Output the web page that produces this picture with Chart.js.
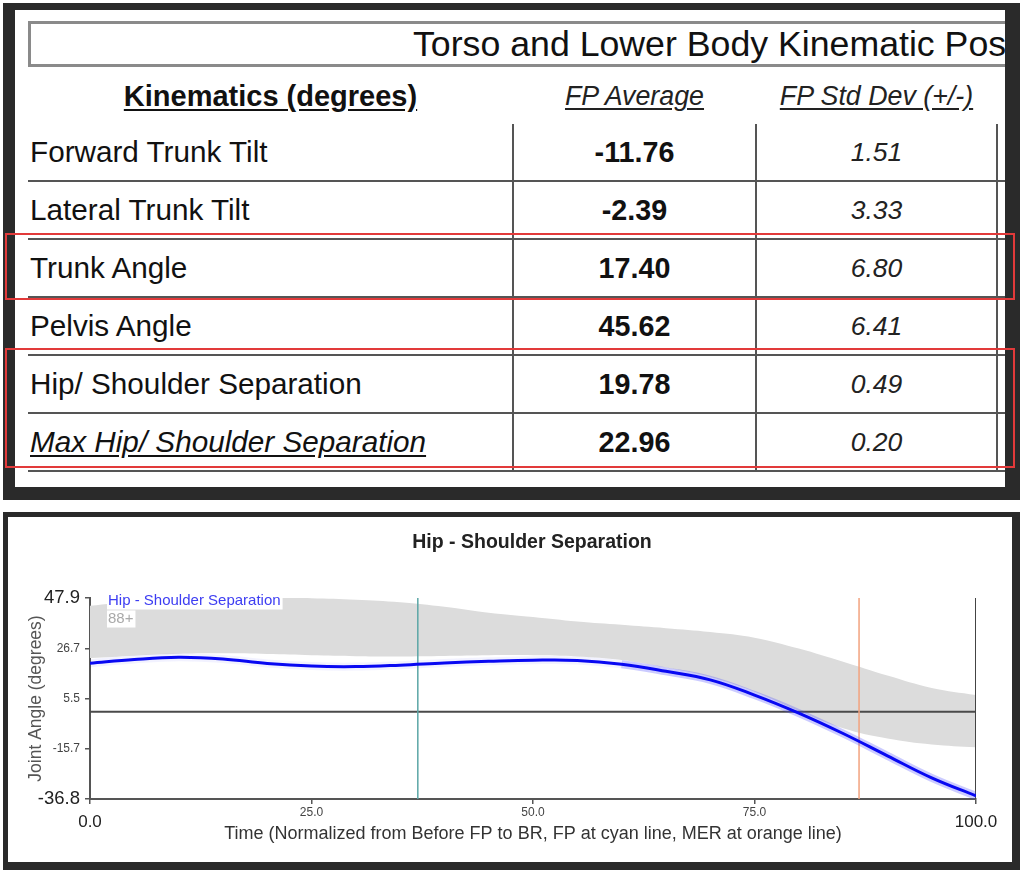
<!DOCTYPE html>
<html lang="en">
<head>
<meta charset="utf-8"/>
<title>Torso and Lower Body Kinematics - Hip / Shoulder Separation</title>
<script src="https://cdn.jsdelivr.net/npm/chart.js"></script>
<style>
    body {
        margin: 0;
        width: 1024px;
        height: 875px;
        position: relative;
        overflow: hidden;
        background: #fff;
        font-family: 'Liberation Sans', Arial, sans-serif;
        color: #111;
    }
    .frame { position: absolute; background: #2a2a2a; }
    #sheetFrame { left: 3px; top: 3px; width: 1017px; height: 497px; }
    #sheet { position: absolute; left: 12px; top: 7px; width: 990px; height: 477px; background: #fff; overflow: hidden; }

    #sheetTitle {
        position: absolute; left: 13px; top: 11px; width: 1000px; height: 46px;
        box-sizing: border-box; border: 3px solid #8a8a8a;
        padding-left: 382px; font-size: 35.7px; line-height: 40px; white-space: nowrap; color: #111;
    }
    .hdr { position: absolute; top: 69px; height: 34px; line-height: 34px; text-align: center;
           text-decoration: underline; text-underline-offset: 3px; white-space: nowrap; }
    .hdr.main { font-weight: bold; font-size: 29px; }
    .hdr.sub { font-style: italic; font-size: 26.8px; color: #222; }

    #kin { position: absolute; left: 13px; top: 114px; width: 985px; border-collapse: collapse; table-layout: fixed; }
    #kin td { height: 56px; padding: 0; border-bottom: 2px solid #555; white-space: nowrap; }
    #kin td + td { border-left: 2px solid #555; }
    #kin td.name { font-size: 29.7px; padding-left: 2px; }
    #kin td.name.max { font-style: italic; text-decoration: underline; text-underline-offset: 3px; }
    #kin td.avg { font-size: 28.7px; font-weight: bold; text-align: center; }
    #kin td.sd { font-size: 26.5px; font-style: italic; text-align: center; color: #222; }

    .mark { position: absolute; box-sizing: border-box; border: 2px solid #e23a3a; }

    #chartFrame { left: 3px; top: 512px; width: 1017px; height: 358px; }
    #chartBox { position: absolute; left: 5px; top: 5px; width: 1004px; height: 345px; background: #fff; }
    #chartTitle { position: absolute; left: 524px; top: 12px; transform: translateX(-50%);
                  font-size: 19.5px; font-weight: bold; line-height: 24px; color: #222; white-space: nowrap; }
    #hssChart { position: absolute; left: 0; top: 0; }
</style>
</head>
<body>
    <!-- Kinematics table -->
    <div class="frame" id="sheetFrame">
        <div id="sheet">
            <div id="sheetTitle">Torso and Lower Body Kinematic Positions</div>
            <div class="hdr main" style="left:13px;width:485px;">Kinematics (degrees)</div>
            <div class="hdr sub" style="left:498px;width:243px;">FP Average</div>
            <div class="hdr sub" style="left:741px;width:241px;">FP Std Dev (+/-)</div>
            <table id="kin">
                <colgroup><col style="width:485px"><col style="width:243px"><col style="width:241px"><col style="width:16px"></colgroup>
                <tr><td class="name">Forward Trunk Tilt</td><td class="avg">-11.76</td><td class="sd">1.51</td><td></td></tr>
                <tr><td class="name">Lateral Trunk Tilt</td><td class="avg">-2.39</td><td class="sd">3.33</td><td></td></tr>
                <tr><td class="name">Trunk Angle</td><td class="avg">17.40</td><td class="sd">6.80</td><td></td></tr>
                <tr><td class="name">Pelvis Angle</td><td class="avg">45.62</td><td class="sd">6.41</td><td></td></tr>
                <tr><td class="name">Hip/ Shoulder Separation</td><td class="avg">19.78</td><td class="sd">0.49</td><td></td></tr>
                <tr><td class="name max">Max Hip/ Shoulder Separation</td><td class="avg">22.96</td><td class="sd">0.20</td><td></td></tr>
            </table>
        </div>
    </div>
    <div class="mark" style="left:5px;top:233px;width:1010px;height:67px;"></div>
    <div class="mark" style="left:5px;top:348px;width:1010px;height:120px;"></div>

    <!-- Hip - shoulder separation chart -->
    <div class="frame" id="chartFrame">
        <div id="chartBox">
            <canvas id="hssChart" width="1004" height="345"></canvas>
            <div id="chartTitle">Hip - Shoulder Separation</div>
        </div>
    </div>

<script>
    // normalised time, 0 = before FP, 100 = ball release
    const TIME = [0, 5, 10, 15, 20, 25, 30, 35, 40, 45, 50, 55, 60, 65, 70, 75, 80, 85, 90, 95, 100];
    // athlete average (blue)
    const HSS_MEAN = [20.4, 22.0, 22.9, 22.2, 20.3, 19.2, 19.0, 19.6, 20.5, 21.2, 21.7, 21.6, 20.0, 17.0, 13.4, 7.0, -0.6, -9.2, -18.6, -27.9, -35.5];
    // 88+ reference band (grey)
    const BAND_88_UPPER = [44.6, 46.4, 47.5, 48.1, 48.2, 47.8, 47.2, 46.1, 44.2, 41.7, 39.9, 38.0, 36.6, 35.2, 33.6, 31.2, 26.6, 21.0, 15.2, 10.0, 7.0];
    const BAND_88_LOWER = [22.6, 23.6, 24.4, 24.6, 24.3, 23.8, 23.4, 23.3, 23.5, 23.8, 23.8, 23.3, 21.8, 18.6, 14.6, 8.4, 0.3, -7.0, -11.3, -13.8, -15.0];

    const Y_TICKS = [-36.8, -15.7, 5.5, 26.7, 47.9];
    const X_TICKS = [0, 25, 50, 75, 100];
    const FP_TIME = 37.0;   // cyan line
    const MER_TIME = 86.8;  // orange line

    const Y_MIN = Y_TICKS[0], Y_MAX = Y_TICKS[Y_TICKS.length - 1];
    const X_MIN = X_TICKS[0], X_MAX = X_TICKS[X_TICKS.length - 1];

    const pts = ys => TIME.map((t, i) => ({x: t, y: ys[i]}));
    const vline = x => [{x: x, y: Y_MIN}, {x: x, y: Y_MAX}];

    Chart.defaults.font.family = "'Liberation Sans', Arial, sans-serif";

    // first and last tick labels are drawn larger
    function isEnd(ctx, n) { return ctx.index === 0 || ctx.index === n - 1; }

    // legend drawn in the top-left corner of the plot, on white boxes
    const insideLegend = {
        id: 'insideLegend',
        afterDatasetsDraw(chart) {
            const {ctx, chartArea} = chart;
            const items = chart.data.datasets.filter(d => d.legendRank).sort((a, b) => a.legendRank - b.legendRank);
            ctx.save();
            ctx.font = "15px 'Liberation Sans', Arial, sans-serif";
            ctx.textBaseline = 'middle';
            items.forEach((d, i) => {
                const x = chartArea.left + 18;
                const y = chartArea.top + 3 + i * 18;
                const w = ctx.measureText(d.label).width;
                ctx.fillStyle = '#fff';
                ctx.fillRect(x - 1, y - 8.5, w + 3, 17);
                ctx.fillStyle = d.legendColor;
                ctx.fillText(d.label, x, y);
            });
            ctx.restore();
        }
    };

    new Chart(document.getElementById('hssChart'), {
        type: 'line',
        data: {
            datasets: [
                {
                    label: '88+', data: pts(BAND_88_UPPER), legendRank: 2, legendColor: '#a9a9a9',
                    borderWidth: 0, backgroundColor: '#dcdcdc', fill: '+1', order: 10
                },
                {
                    label: '88+ lower', data: pts(BAND_88_LOWER),
                    borderWidth: 0, fill: false, order: 11
                },
                {
                    label: 'zero', data: [{x: X_MIN, y: 0}, {x: X_MAX, y: 0}],
                    borderColor: '#4a4a4a', borderWidth: 2, order: 6
                },
                {
                    label: 'FP', data: vline(FP_TIME),
                    borderColor: '#5ba6a6', borderWidth: 1.5, order: 5
                },
                {
                    label: 'MER', data: vline(MER_TIME),
                    borderColor: '#f2a27e', borderWidth: 1.5, order: 5
                },
                {
                    label: 'frame', data: vline(X_MAX),
                    borderColor: '#444', borderWidth: 2, order: 4
                },
                {
                    label: 'spread', data: pts(HSS_MEAN),
                    borderColor: 'rgba(70,70,255,0.25)', borderWidth: 8, order: 2,
                    segment: {
                        borderColor: ctx => ctx.p0.parsed.x >= 60 ? 'rgba(70,70,255,0.28)' : 'rgba(70,70,255,0.07)'
                    }
                },
                {
                    label: 'Hip - Shoulder Separation', data: pts(HSS_MEAN), legendRank: 1, legendColor: '#3d3df2',
                    borderColor: '#0808f2', borderWidth: 3, order: 1
                }
            ]
        },
        options: {
            responsive: false,
            devicePixelRatio: 1,
            animation: false,
            events: [],
            layout: { padding: { top: 81, right: 36, bottom: 0, left: 0 } },
            elements: {
                point: { radius: 0 },
                line: { tension: 0.4 }
            },
            plugins: {
                legend: { display: false },
                tooltip: { enabled: false },
                title: { display: false }
            },
            scales: {
                x: {
                    type: 'linear',
                    min: X_MIN,
                    max: X_MAX,
                    afterBuildTicks: scale => { scale.ticks = X_TICKS.map(v => ({value: v})); },
                    afterFit: scale => { scale.height = 63; },
                    ticks: {
                        autoSkip: false,
                        maxRotation: 0,
                        padding: 3,
                        callback: v => Number(v).toFixed(1),
                        color: ctx => isEnd(ctx, X_TICKS.length) ? '#222' : '#444',
                        font: ctx => isEnd(ctx, X_TICKS.length) ? {size: 17, lineHeight: '30px'} : {size: 12, lineHeight: '12px'}
                    },
                    grid: { drawOnChartArea: false, tickLength: 5, color: '#555', lineWidth: 1.5 },
                    border: { color: '#555', width: 2 },
                    title: {
                        display: true,
                        text: 'Time (Normalized from Before FP to BR, FP at cyan line, MER at orange line)',
                        color: '#333',
                        font: { size: 18 },
                        padding: { top: 0, bottom: 17 }
                    }
                },
                y: {
                    type: 'linear',
                    min: Y_MIN,
                    max: Y_MAX,
                    afterBuildTicks: scale => { scale.ticks = Y_TICKS.map(v => ({value: v})); },
                    afterFit: scale => { scale.width = 82; },
                    ticks: {
                        padding: 5,
                        callback: v => Number(v).toFixed(1),
                        color: ctx => isEnd(ctx, Y_TICKS.length) ? '#222' : '#444',
                        font: ctx => isEnd(ctx, Y_TICKS.length) ? {size: 18.5} : {size: 12}
                    },
                    grid: { drawOnChartArea: false, tickLength: 5, color: '#555', lineWidth: 1.5 },
                    border: { color: '#555', width: 2 },
                    title: {
                        display: true,
                        text: 'Joint Angle (degrees)',
                        color: '#555',
                        font: { size: 17.5 },
                        padding: { top: 18, bottom: 0 }
                    }
                }
            }
        },
        plugins: [insideLegend]
    });
</script>
</body>
</html>
